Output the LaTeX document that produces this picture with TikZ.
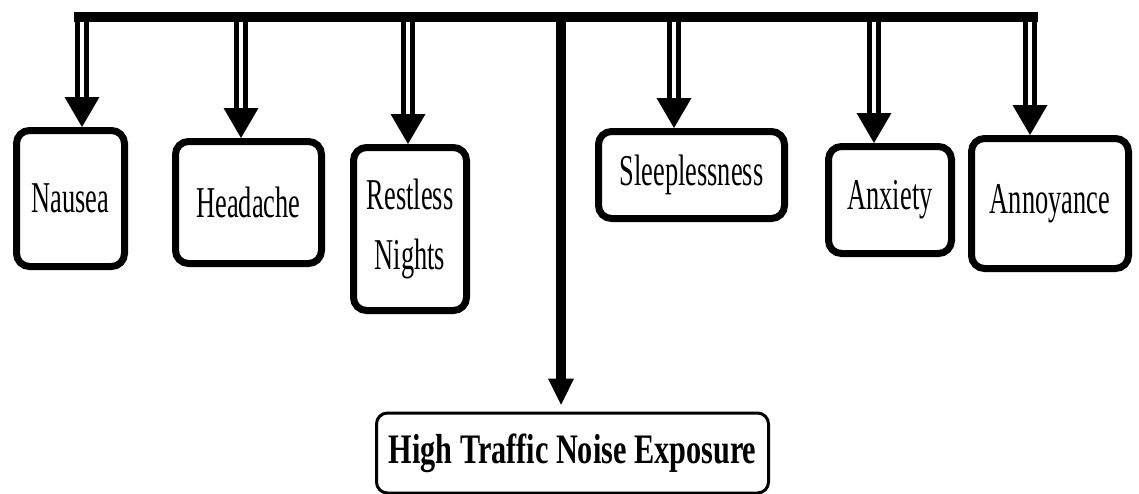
\documentclass[tikz,border=0pt]{standalone}
\usepackage{fontspec}
\setmainfont{Liberation Serif}
\newfontfamily\narrowA[FakeStretch=0.6]{Liberation Serif}
\newfontfamily\narrowB[FakeStretch=0.72]{Liberation Serif}
\usetikzlibrary{calc,arrows.meta}
\begin{document}
\begin{tikzpicture}[x=1pt,y=-1pt,
  effect/.style={draw=black, line width=7pt, rounded corners=13pt, inner sep=0pt,
    align=center, font=\narrowA\fontsize{44}{60}\selectfont},
  shaft/.style={draw=black, double=white, line width=5pt, double distance=4pt},
  head/.style={fill=black},
  trunk/.style={line width=10pt, -{Triangle[width=24pt,length=27pt]}, shorten >=6pt},
  bar/.style={line width=10pt},
  cause/.style={draw=black, line width=3pt, rounded corners=11pt, inner sep=0pt,
    font=\narrowB\bfseries\fontsize{42}{50}\selectfont}]
\fill[white] (0,0) rectangle (1139,493);
\useasboundingbox (0,0) rectangle (1139,493);

\node[effect, minimum width=108pt, minimum height=136pt] (nau) at (70.5,198.5) {Nausea};
\node[effect, minimum width=146pt, minimum height=122pt] (hea) at (248.5,202.5) {Headache};
\node[effect, minimum width=113pt, minimum height=163pt] (res) at (410,229) {Restless\\Nights};
\node[effect, minimum width=186pt, minimum height=87pt] (sle) at (691.5,175) {Sleeplessness};
\node[effect, minimum width=123pt, minimum height=107pt] (anx) at (890,200) {Anxiety};
\node[effect, minimum width=157pt, minimum height=130pt] (ann) at (1050,203.5) {Annoyance};
\node[cause, minimum width=392pt, minimum height=80pt] (hi) at (572.5,453) {High Traffic Noise Exposure};

\coordinate (bl) at (74,17);
\coordinate (br) at (1038,17);
\coordinate (c) at (561,17);
\coordinate (t1) at (82,17);
\coordinate (t2) at (241,17);
\coordinate (t3) at (408,17);
\coordinate (t4) at (674,17);
\coordinate (t5) at (874,17);
\coordinate (t6) at (1030,17);

\foreach \t/\n in {t1/nau,t2/hea,t3/res,t4/sle,t5/anx,t6/ann}{
  \draw[shaft] (\t) -- ($(\t |- \n.north)+(0,-30)$);
  \fill[head] (\t |- \n.north) -- ++(-17.5,-30) -- ++(35,0) -- cycle;
}
\draw[trunk] (c) -- (c |- hi.north);
\draw[bar] (bl) -- (br);
\end{tikzpicture}
\end{document}
